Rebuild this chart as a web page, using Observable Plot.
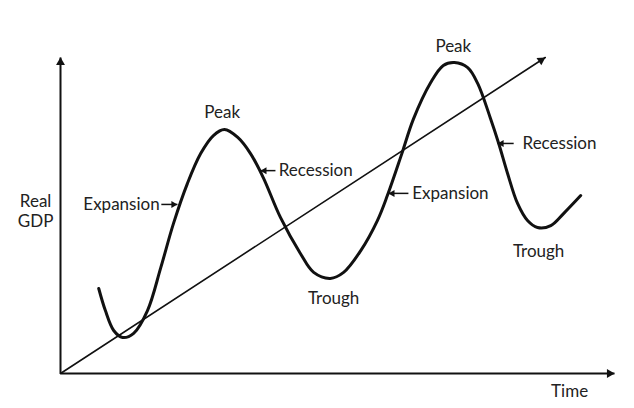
<!DOCTYPE html>
<html>
<head>
<meta charset="utf-8">
<script src="https://cdn.jsdelivr.net/npm/d3@7"></script>
<script src="https://cdn.jsdelivr.net/npm/@observablehq/plot@0.6"></script>
<style>
  html, body { margin: 0; padding: 0; background: #fff; }
  #chart { width: 634px; height: 408px; }
</style>
</head>
<body>
<div id="chart"></div>
<script>
// Business-cycle curve (time, real GDP)
const cycleTime = [6.9, 8.1, 9.6, 11.2, 13.2, 15.7, 18.1, 20.4, 22.9, 25.3, 27.6, 29.6, 32.0, 34.3, 36.6, 39.7, 43.3, 45.7, 48.7, 51.1, 54.2, 57.2, 59.0, 61.6, 63.7, 66.8, 69.1, 71.1, 73.5, 75.3, 77.6, 79.1, 80.7, 82.5, 84.3, 86.1, 88.5, 90.8, 93.9];
const cycleGDP  = [26.9, 19.9, 13.6, 11.4, 12.7, 19.9, 33.5, 47.5, 60.1, 69.6, 75.3, 77.2, 74.7, 69.6, 62.0, 49.4, 38.0, 32.0, 30.1, 32.0, 38.9, 48.4, 56.3, 69.5, 80.5, 92.0, 97.5, 98.4, 96.8, 91.8, 80.8, 72.8, 63.3, 53.8, 48.4, 46.2, 46.8, 50.6, 56.3];

// Long-run trend line
const trendTime = [0, 87.5];
const trendGDP  = [0, 100];

// Axes (origin to arrow tip)
const axisX1 = [0, 0];
const axisY1 = [0, 0];
const axisX2 = [100, 0];
const axisY2 = [0, 100];
const axisRotate = [90, 0];

// Phase labels
const phaseText  = ["Peak", "Trough", "Peak", "Trough"];
const phaseTime  = [29.2, 49.3, 70.9, 86.3];
const phaseGDP   = [82.6, 23.7, 103.5, 38.6];

// Labels with pointer arrows
const pointerText   = ["Expansion", "Recession", "Expansion", "Recession"];
const pointerTail   = [18.2, 38.8, 62.8, 81.8];
const pointerTip    = [21.1, 36.1, 59.2, 78.9];
const pointerGDP    = [53.5, 64.2, 57.0, 72.8];
const pointerLabelT = [17.9, 39.4, 63.5, 83.4];
const pointerAnchor = ["end", "start", "start", "start"];

// Axis titles
const axisTitleText = ["Real\nGDP", "Time"];
const axisTitleTime = [-4.5, 91.9];
const axisTitleGDP  = [51.6, -5.4];

const curve = cycleTime.map((t, i) => ({t, g: cycleGDP[i]}));
const trend = trendTime.map((t, i) => ({t, g: trendGDP[i]}));
const axes = axisX1.map((x1, i) => ({x1, y1: axisY1[i], x2: axisX2[i], y2: axisY2[i], rot: axisRotate[i]}));
const phases = phaseText.map((text, i) => ({text, t: phaseTime[i], g: phaseGDP[i]}));
const pointers = pointerText.map((text, i) => ({
  text, tail: pointerTail[i], tip: pointerTip[i], g: pointerGDP[i],
  lt: pointerLabelT[i], anchor: pointerAnchor[i],
  dir: pointerTip[i] > pointerTail[i] ? 1 : -1
}));
const titles = axisTitleText.map((text, i) => ({text, t: axisTitleTime[i], g: axisTitleGDP[i]}));

const ink = "#111";
const textInk = "#222";
const trendAngle = 57;

const chart = Plot.plot({
  width: 634,
  height: 408,
  marginLeft: 60,
  marginRight: 20,
  marginTop: 57,
  marginBottom: 35,
  x: {domain: [0, 100], axis: null},
  y: {domain: [0, 100], axis: null},
  style: {fontFamily: "Lato, 'Open Sans', sans-serif", fontSize: "17px", background: "#fff", overflow: "visible"},
  marks: [
    // axes
    Plot.link(axes, {x1: "x1", y1: "y1", x2: "x2", y2: "y2", stroke: ink, strokeWidth: 2}),
    Plot.dot(axes.filter(d => d.rot === 90), {x: "x2", y: "y2", symbol: "triangle", r: 3.3, fill: ink, stroke: "none", rotate: 90, dx: -5}),
    Plot.dot(axes.filter(d => d.rot === 0), {x: "x2", y: "y2", symbol: "triangle", r: 3.3, fill: ink, stroke: "none", rotate: 0, dy: 5}),
    // trend line
    Plot.line(trend, {x: "t", y: "g", stroke: ink, strokeWidth: 1.6}),
    Plot.dot(trend.slice(-1), {x: "t", y: "g", symbol: "triangle", r: 3.3, fill: ink, stroke: "none", rotate: trendAngle,
      dx: -5 * Math.sin(trendAngle * Math.PI / 180), dy: 5 * Math.cos(trendAngle * Math.PI / 180)}),
    // business cycle
    Plot.line(curve, {x: "t", y: "g", stroke: ink, strokeWidth: 3, curve: "catmull-rom"}),
    // pointer arrows
    Plot.link(pointers, {x1: "tail", x2: "tip", y1: "g", y2: "g", stroke: ink, strokeWidth: 1.5}),
    Plot.dot(pointers.filter(d => d.dir > 0), {x: "tip", y: "g", symbol: "triangle", r: 2.6, fill: ink, stroke: "none", rotate: 90, dx: -4}),
    Plot.dot(pointers.filter(d => d.dir < 0), {x: "tip", y: "g", symbol: "triangle", r: 2.6, fill: ink, stroke: "none", rotate: -90, dx: 4}),
    Plot.text(pointers.filter(d => d.anchor === "end"), {x: "lt", y: "g", text: "text", textAnchor: "end", fill: textInk}),
    Plot.text(pointers.filter(d => d.anchor === "start"), {x: "lt", y: "g", text: "text", textAnchor: "start", fill: textInk}),
    // phase labels
    Plot.text(phases, {x: "t", y: "g", text: "text", fill: textInk}),
    // axis titles
    Plot.text(titles, {x: "t", y: "g", text: "text", fill: textInk, lineHeight: 1.2})
  ]
});
document.getElementById("chart").appendChild(chart);
</script>
</body>
</html>
